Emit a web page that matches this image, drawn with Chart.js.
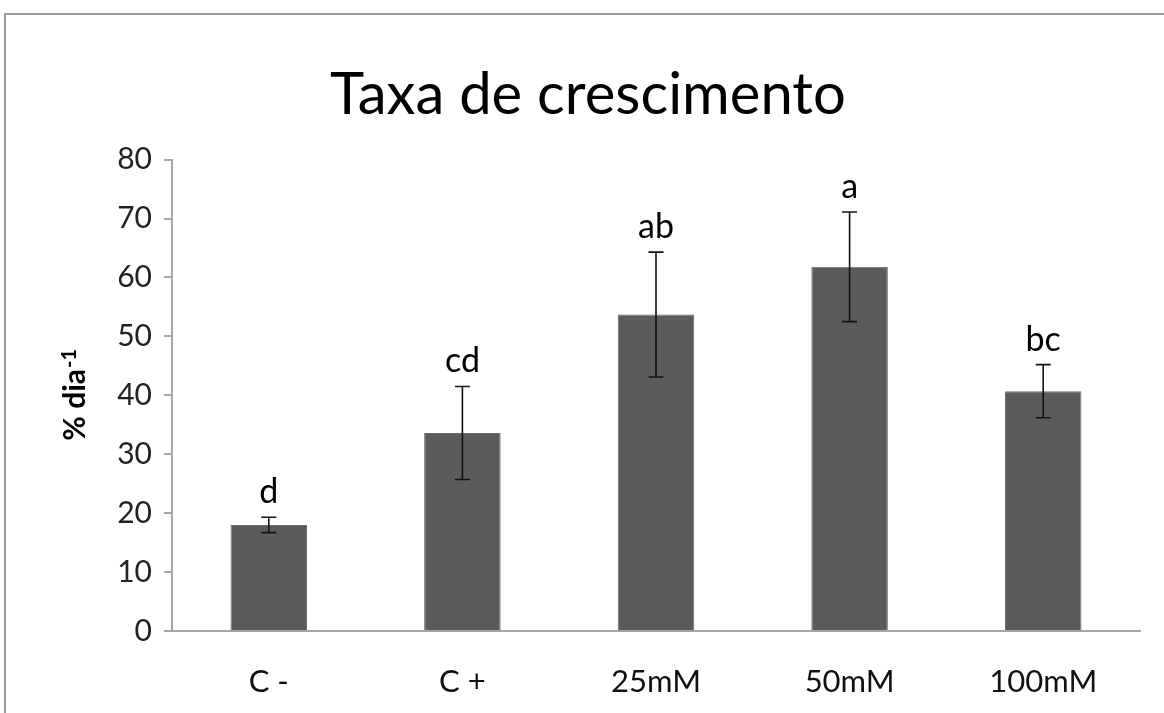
<!DOCTYPE html>
<html>
<head>
<meta charset="utf-8">
<script src="https://cdn.jsdelivr.net/npm/chart.js@4.4.0/dist/chart.umd.min.js"></script>
<style>
  html, body { margin: 0; padding: 0; background: #fff; }
  .frame {
    position: absolute; left: 4px; top: 13px; width: 1200px; height: 760px;
    border-top: 2px solid #9a9a9a; border-left: 2px solid #9a9a9a;
  }
  .chart { position: absolute; left: 0; top: 0; width: 1164px; height: 713px; }
</style>
</head>
<body>
<div class="frame"></div>
<div class="chart"><canvas id="growthChart"></canvas></div>
<script>
  const categories = ['C -', 'C +', '25mM', '50mM', '100mM'];
  const means = [18.0, 33.6, 53.7, 61.8, 40.7];
  const errors = [1.3, 7.9, 10.6, 9.3, 4.5];
  const letters = ['d', 'cd', 'ab', 'a', 'bc'];
  const yTicks = [0, 10, 20, 30, 40, 50, 60, 70, 80];

  const FONT = 'Lato, "Open Sans", sans-serif';
  const axisGrey = '#a6a6a6';

  // error bars + significance letters, drawn from the scales
  const errorBarPlugin = {
    id: 'errorBars',
    afterDatasetsDraw(chart) {
      const ctx = chart.ctx;
      const meta = chart.getDatasetMeta(0);
      const y = chart.scales.y;
      ctx.save();
      ctx.strokeStyle = '#111';
      ctx.lineWidth = 1.6;
      meta.data.forEach((bar, i) => {
        const x = bar.x;
        const top = y.getPixelForValue(means[i] + errors[i]);
        const bot = y.getPixelForValue(means[i] - errors[i]);
        ctx.beginPath();
        ctx.moveTo(x, top); ctx.lineTo(x, bot);
        ctx.moveTo(x - 7.5, top); ctx.lineTo(x + 7.5, top);
        ctx.moveTo(x - 7.5, bot); ctx.lineTo(x + 7.5, bot);
        ctx.stroke();

        ctx.fillStyle = '#000';
        ctx.font = '34px ' + FONT;
        ctx.textAlign = 'center';
        ctx.textBaseline = 'alphabetic';
        ctx.fillText(letters[i], x, top - 14);
      });
      ctx.restore();
    }
  };

  // rotated y-axis title with small raised "-1"
  const yTitlePlugin = {
    id: 'yTitle',
    afterDraw(chart) {
      const ctx = chart.ctx;
      const area = chart.chartArea;
      const cy = (area.top + area.bottom) / 2;
      ctx.save();
      ctx.translate(75, cy);
      ctx.rotate(-Math.PI / 2);
      ctx.fillStyle = '#000';
      ctx.textBaseline = 'middle';
      ctx.textAlign = 'left';
      ctx.font = 'bold 30px ' + FONT;
      const main = '% dia';
      const wMain = ctx.measureText(main).width;
      ctx.font = 'bold 20px ' + FONT;
      const sup = '-1';
      const wSup = ctx.measureText(sup).width;
      const start = -(wMain + wSup) / 2;
      ctx.font = 'bold 30px ' + FONT;
      ctx.fillText(main, start, 0);
      ctx.font = 'bold 20px ' + FONT;
      ctx.fillText(sup, start + wMain + 1, -5);
      ctx.restore();
    }
  };

  new Chart(document.getElementById('growthChart'), {
    type: 'bar',
    data: {
      labels: categories,
      datasets: [{
        data: means,
        backgroundColor: '#5b5b5b',
        borderColor: '#6a6a6a',
        borderWidth: 1,
        categoryPercentage: 1.0,
        barPercentage: 0.395
      }]
    },
    options: {
      responsive: true,
      maintainAspectRatio: false,
      animation: false,
      // left padding only shifts the title centre; y axis width makes up the rest
      layout: { padding: { left: 36, right: 24, top: 50, bottom: 0 } },
      plugins: {
        legend: { display: false },
        tooltip: { enabled: false },
        title: {
          display: true,
          text: 'Taxa de crescimento',
          color: '#000',
          font: { family: FONT, size: 58, weight: 'normal' },
          padding: { top: 10, bottom: 30 }
        }
      },
      scales: {
        x: {
          grid: { display: false, drawTicks: false },
          border: { display: true, color: axisGrey, width: 2 },
          ticks: { color: '#111', font: { family: FONT, size: 31 }, padding: 32 },
          afterFit: s => { s.height = 82; }
        },
        y: {
          min: 0,
          max: 80,
          afterBuildTicks: s => { s.ticks = yTicks.map(v => ({ value: v })); },
          grid: { display: true, drawOnChartArea: false, drawTicks: true, tickLength: 8, color: axisGrey, lineWidth: 2 },
          border: { display: true, color: axisGrey, width: 2 },
          ticks: { color: '#222', font: { family: FONT, size: 30 }, padding: 12 },
          afterFit: s => { s.width = 136; }
        }
      }
    },
    plugins: [errorBarPlugin, yTitlePlugin]
  });
</script>
</body>
</html>
